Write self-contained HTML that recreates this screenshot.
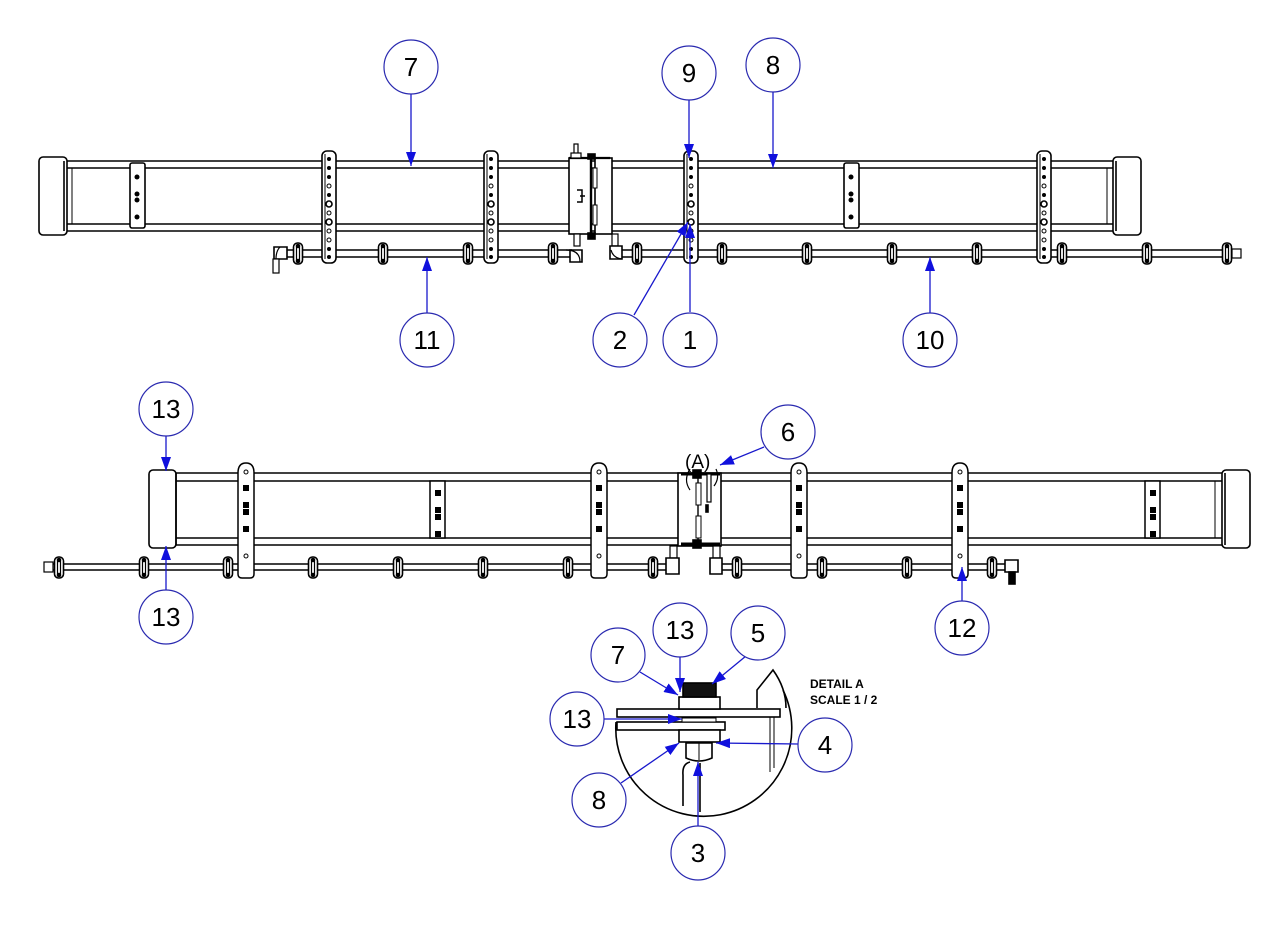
<!DOCTYPE html>
<html><head><meta charset="utf-8"><style>
html,body{margin:0;padding:0;background:#fff;width:1272px;height:928px;overflow:hidden}
svg{display:block}
text{font-family:"Liberation Sans",Arial,sans-serif}
</style></head><body>
<svg width="1272" height="928" viewBox="0 0 1272 928" xmlns="http://www.w3.org/2000/svg">
<defs>
<g id="noz"><rect x="-4.5" y="-10" width="9" height="21" rx="4" fill="#fff" stroke="#000" stroke-width="1.6"/><line x1="-1.5" y1="-6" x2="-1.5" y2="7" stroke="#000" stroke-width="1.2"/><line x1="1.5" y1="-6" x2="1.5" y2="7" stroke="#000" stroke-width="1.2"/><circle cx="0" cy="-7" r="2.3" fill="#000"/><circle cx="0" cy="8" r="2.3" fill="#000"/></g>
<g id="hbr"><rect x="-7" y="0" width="14" height="112" rx="5" fill="#fff" stroke="#000" stroke-width="1.6"/><line x1="-4" y1="3" x2="-4" y2="108" stroke="#000" stroke-width="1"/>
<circle cx="0" cy="8" r="2" fill="#000"/><circle cx="0" cy="17" r="2" fill="#000"/><circle cx="0" cy="26" r="2" fill="#000"/><circle cx="0" cy="35" r="2" fill="none" stroke="#000"/><circle cx="0" cy="44" r="2" fill="#000"/><circle cx="0" cy="53" r="3" fill="none" stroke="#000" stroke-width="1.6"/><circle cx="0" cy="62" r="2" fill="none" stroke="#000"/><circle cx="0" cy="71" r="3" fill="none" stroke="#000" stroke-width="1.6"/><circle cx="0" cy="80" r="2" fill="none" stroke="#000"/><circle cx="0" cy="89" r="2" fill="none" stroke="#000"/><circle cx="0" cy="98" r="2" fill="#000"/><circle cx="0" cy="106" r="2" fill="#000"/></g>
<g id="sbr"><rect x="-7" y="0" width="15" height="65" rx="2" fill="#fff" stroke="#000" stroke-width="1.6"/><circle cx="0" cy="14" r="2.5" fill="#000"/><circle cx="0" cy="31" r="2.5" fill="#000"/><circle cx="0" cy="37" r="2.5" fill="#000"/><circle cx="0" cy="54" r="2.5" fill="#000"/></g>
<g id="bbr"><path d="M-8 111 L-8 10 Q-8 0 0 0 Q8 0 8 10 L8 111 Q8 115 4 115 L-4 115 Q-8 115 -8 111Z" fill="#fff" stroke="#000" stroke-width="1.5"/><circle cx="0" cy="9" r="2" fill="none" stroke="#000"/><rect x="-3" y="22" width="6" height="6" fill="#000"/><rect x="-3" y="39" width="6" height="6" fill="#000"/><rect x="-3" y="46" width="6" height="6" fill="#000"/><rect x="-3" y="63" width="6" height="6" fill="#000"/><circle cx="0" cy="93" r="2" fill="none" stroke="#000"/></g>
<g id="bsr"><rect x="-8" y="0" width="15" height="57" fill="#fff" stroke="#000" stroke-width="1.5"/><rect x="-3" y="9" width="6" height="6" fill="#000"/><rect x="-3" y="26" width="6" height="6" fill="#000"/><rect x="-3" y="33" width="6" height="6" fill="#000"/><rect x="-3" y="50" width="6" height="6" fill="#000"/></g>
<marker id="ar" viewBox="0 0 14 10" refX="14" refY="5" markerWidth="14" markerHeight="10" markerUnits="userSpaceOnUse" orient="auto"><path d="M0 0 L14 5 L0 10Z" fill="#1010dd"/></marker>
</defs>

<g stroke="#000" stroke-width="1.6" fill="none">
<line x1="66" y1="161" x2="1114" y2="161"/><line x1="66" y1="168" x2="1114" y2="168"/>
<line x1="66" y1="224" x2="1114" y2="224"/><line x1="66" y1="231" x2="1114" y2="231"/>
<line x1="72" y1="168" x2="72" y2="224" stroke-width="1"/>
<line x1="1107" y1="168" x2="1107" y2="224" stroke-width="1"/>
<rect x="39" y="157" width="28" height="78" rx="4" fill="#fff"/>
<rect x="1113" y="157" width="28" height="78" rx="4" fill="#fff"/>
<line x1="1116" y1="161" x2="1116" y2="231"/>
<line x1="64" y1="161" x2="64" y2="231"/>
<line x1="284" y1="250" x2="572" y2="250"/><line x1="284" y1="257" x2="572" y2="257"/>
<line x1="620" y1="250" x2="1232" y2="250"/><line x1="620" y1="257" x2="1232" y2="257"/>
<rect x="569" y="158" width="22" height="76" fill="#fff"/>
<line x1="591" y1="154" x2="591" y2="237" stroke-width="2.4"/>
<rect x="595" y="158" width="17" height="76" fill="#fff"/>
<line x1="569" y1="158" x2="610" y2="158" stroke-width="2.2"/>
<rect x="593" y="168" width="4" height="20" fill="#fff" stroke-width="1"/>
<rect x="593" y="205" width="4" height="20" fill="#fff" stroke-width="1"/>
<path d="M577 190 L582 190 L582 202 L577 202 M580 196 L585 196" stroke-width="1.5"/>
<rect x="574" y="144" width="4" height="10" fill="#fff" stroke-width="1.2"/>
<rect x="571" y="153" width="10" height="5" fill="#fff" stroke-width="1.2"/>
<rect x="588" y="154" width="7" height="5" fill="#000"/>
<rect x="588" y="233" width="7" height="6" fill="#000"/>
<rect x="574" y="234" width="6" height="12" fill="#fff" stroke-width="1.2"/>
<path d="M570 250 L582 250 L582 262 L570 262 Z" fill="#fff"/>
<path d="M566 250 Q580 250 580 262" stroke-width="1.2"/>
<rect x="612" y="234" width="6" height="12" fill="#fff" stroke-width="1.2"/>
<path d="M610 246 L622 246 L622 259 L610 259 Z" fill="#fff"/>
<path d="M611 250 Q613 258 622 259" stroke-width="1.2"/>
<path d="M274 247 L287 247 L287 259 L274 259 Z" fill="#fff"/>
<path d="M280 247 Q276 251 276 259" stroke-width="1.2"/>
<rect x="273" y="259" width="6" height="14" fill="#fff" stroke-width="1.2"/>
<rect x="1232" y="249" width="9" height="9" fill="#fff" stroke-width="1.2"/>
</g>
<use href="#sbr" x="137" y="163"/>
<use href="#sbr" x="851" y="163"/>
<use href="#hbr" x="329" y="151"/>
<use href="#hbr" x="491" y="151"/>
<use href="#hbr" x="691" y="151"/>
<use href="#hbr" x="1044" y="151"/>
<use href="#noz" x="298" y="253"/><use href="#noz" x="383" y="253"/><use href="#noz" x="468" y="253"/><use href="#noz" x="553" y="253"/>
<use href="#noz" x="637" y="253"/><use href="#noz" x="722" y="253"/><use href="#noz" x="807" y="253"/><use href="#noz" x="892" y="253"/><use href="#noz" x="977" y="253"/><use href="#noz" x="1062" y="253"/><use href="#noz" x="1147" y="253"/><use href="#noz" x="1227" y="253"/>

<g stroke="#000" stroke-width="1.6" fill="none">
<line x1="175" y1="473" x2="1224" y2="473"/><line x1="175" y1="481" x2="1224" y2="481"/>
<line x1="175" y1="538" x2="1224" y2="538"/><line x1="175" y1="545" x2="1224" y2="545"/>
<line x1="1215" y1="481" x2="1215" y2="538" stroke-width="1"/>
<rect x="149" y="470" width="27" height="78" rx="4" fill="#fff"/>
<rect x="1222" y="470" width="28" height="78" rx="4" fill="#fff"/>
<line x1="176" y1="473" x2="176" y2="545"/>
<line x1="1225" y1="473" x2="1225" y2="545"/>
<line x1="52" y1="564" x2="668" y2="564"/><line x1="52" y1="570" x2="668" y2="570"/>
<line x1="718" y1="564" x2="1008" y2="564"/><line x1="718" y1="570" x2="1008" y2="570"/>
<rect x="44" y="562" width="9" height="10" fill="#fff" stroke-width="1.2"/>
<rect x="678" y="473" width="43" height="73" fill="#fff"/>
<line x1="681" y1="474" x2="720" y2="474" stroke-width="3"/>
<line x1="681" y1="544" x2="720" y2="544" stroke-width="3"/>
<line x1="698" y1="474" x2="698" y2="544" stroke-width="1.4"/>
<rect x="696" y="483" width="5" height="22" fill="#fff" stroke-width="1"/>
<rect x="696" y="516" width="5" height="22" fill="#fff" stroke-width="1"/>
<rect x="707" y="474" width="4" height="28" fill="#fff" stroke-width="1.2"/>
<rect x="706" y="505" width="2" height="7" fill="#000"/>
<path d="M690 469 Q683 480 690 490" stroke-width="1.2"/>
<path d="M716 469 Q720 478 714 486" stroke-width="1.2"/>
<rect x="693" y="470" width="8" height="8" fill="#000"/>
<rect x="693" y="540" width="8" height="8" fill="#000"/>
<rect x="670" y="546" width="7" height="12" fill="#fff" stroke-width="1.2"/>
<path d="M666 558 L679 558 L679 574 L666 574 Z" fill="#fff"/>
<rect x="713" y="546" width="7" height="12" fill="#fff" stroke-width="1.2"/>
<path d="M710 558 L722 558 L722 574 L710 574 Z" fill="#fff"/>
<path d="M1005 560 L1018 560 L1018 572 L1005 572 Z" fill="#fff"/>
<rect x="1009" y="572" width="6" height="12" fill="#000"/>
</g>
<text x="685" y="468" font-size="19" fill="#000">(A)</text>
<use href="#bbr" x="246" y="463"/>
<use href="#bsr" x="438" y="481"/>
<use href="#bbr" x="599" y="463"/>
<use href="#bbr" x="799" y="463"/>
<use href="#bbr" x="960" y="463"/>
<use href="#bsr" x="1153" y="481"/>
<use href="#noz" x="59" y="567"/><use href="#noz" x="144" y="567"/><use href="#noz" x="228" y="567"/><use href="#noz" x="313" y="567"/><use href="#noz" x="398" y="567"/><use href="#noz" x="483" y="567"/><use href="#noz" x="568" y="567"/><use href="#noz" x="653" y="567"/>
<use href="#noz" x="737" y="567"/><use href="#noz" x="822" y="567"/><use href="#noz" x="907" y="567"/><use href="#noz" x="992" y="567"/>

<g stroke="#000" stroke-width="1.6" fill="none">
<path d="M616 722 A88 88 0 1 0 783 690"/>
<path d="M757 708 L757 690 L773 670 Q786 688 786 708"/>
<line x1="770" y1="716" x2="770" y2="772" stroke-width="1"/>
<line x1="774" y1="716" x2="774" y2="768" stroke-width="1"/>
<rect x="617" y="709" width="163" height="8" fill="#fff"/>
<rect x="617" y="722" width="108" height="8" fill="#fff"/>
<rect x="679" y="697" width="41" height="12" fill="#fff"/>
<rect x="683" y="683" width="33" height="14" fill="#111"/>
<rect x="682" y="718" width="34" height="4" fill="#fff" stroke-width="1"/>
<rect x="679" y="730" width="41" height="12" fill="#fff"/>
<path d="M686 743 L712 743 L712 758 Q699 764 686 758Z" fill="#fff"/>
<line x1="699" y1="743" x2="699" y2="760" stroke-width="1"/>
<path d="M690 762 Q682 764 683 775 L683 806"/>
<line x1="700" y1="763" x2="700" y2="812"/>
</g>
<text x="810" y="688" font-size="12" font-weight="bold" fill="#000">DETAIL  A</text>
<text x="810" y="704" font-size="12" font-weight="bold" fill="#000">SCALE 1 / 2</text>

<g stroke="#1818cc" stroke-width="1.3" fill="none" marker-end="url(#ar)">
<line x1="411" y1="94" x2="411" y2="166"/>
<line x1="689" y1="100" x2="689" y2="158"/>
<line x1="773" y1="92" x2="773" y2="168"/>
<line x1="427" y1="313" x2="427" y2="257"/>
<line x1="634" y1="315" x2="688" y2="222"/>
<line x1="690" y1="312" x2="690" y2="224"/>
<line x1="930" y1="313" x2="930" y2="257"/>
<line x1="166" y1="436" x2="166" y2="471"/>
<line x1="764" y1="447" x2="720" y2="465"/>
<line x1="166" y1="590" x2="166" y2="546"/>
<line x1="962" y1="601" x2="962" y2="567"/>
<line x1="640" y1="672" x2="678" y2="695"/>
<line x1="680" y1="657" x2="680" y2="692"/>
<line x1="746" y1="656" x2="712" y2="684"/>
<line x1="604" y1="719" x2="682" y2="719"/>
<line x1="798" y1="744" x2="716" y2="743"/>
<line x1="621" y1="783" x2="679" y2="743"/>
<line x1="698" y1="826" x2="698" y2="762"/>
</g>
<g stroke="#2a2ab0" stroke-width="1.2" fill="#fff">
<circle cx="411" cy="67" r="27"/><circle cx="689" cy="73" r="27"/><circle cx="773" cy="65" r="27"/>
<circle cx="427" cy="340" r="27"/><circle cx="620" cy="340" r="27"/><circle cx="690" cy="340" r="27"/><circle cx="930" cy="340" r="27"/>
<circle cx="166" cy="409" r="27"/><circle cx="788" cy="432" r="27"/><circle cx="166" cy="617" r="27"/><circle cx="962" cy="628" r="27"/>
<circle cx="618" cy="655" r="27"/><circle cx="680" cy="630" r="27"/><circle cx="758" cy="633" r="27"/>
<circle cx="577" cy="719" r="27"/><circle cx="825" cy="745" r="27"/><circle cx="599" cy="800" r="27"/><circle cx="698" cy="853" r="27"/>
</g>
<g font-size="26" fill="#000" text-anchor="middle">
<text x="411" y="76">7</text><text x="689" y="82">9</text><text x="773" y="74">8</text>
<text x="427" y="349">11</text><text x="620" y="349">2</text><text x="690" y="349">1</text><text x="930" y="349">10</text>
<text x="166" y="418">13</text><text x="788" y="441">6</text><text x="166" y="626">13</text><text x="962" y="637">12</text>
<text x="618" y="664">7</text><text x="680" y="639">13</text><text x="758" y="642">5</text>
<text x="577" y="728">13</text><text x="825" y="754">4</text><text x="599" y="809">8</text><text x="698" y="862">3</text>
</g>
</svg>
</body></html>
